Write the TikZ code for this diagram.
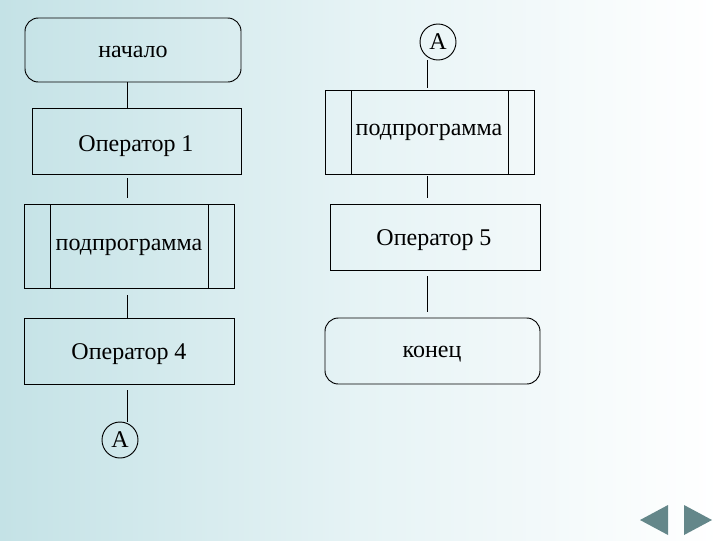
\documentclass[tikz,border=0pt]{standalone}
\usepackage{fontspec}
\setmainfont{Liberation Serif}
\definecolor{bgl}{RGB}{196,226,230}
\definecolor{bgm}{RGB}{230,243,245}
\definecolor{nav}{RGB}{100,135,138}
\begin{document}
\begin{tikzpicture}[x=0.75pt,y=-0.75pt,
  box/.style={draw=black,line width=0.7pt,inner sep=0pt},
  ln/.style={draw=black,line width=0.7pt},
  txt/.style={font=\fontsize{18}{21}\selectfont}]
\shade[left color=bgl,right color=white,middle color=bgm] (0,0) rectangle (720,540);
\useasboundingbox (0,0) rectangle (720,540);
% left column
\draw[box,rounded corners=10pt] (25,18) rectangle (241,82);
\node[txt] (n1) at (133,52) {начало};
\draw[box] (32,108) rectangle (241,174);
\node[txt] (n2) at (136,146) {Оператор 1};
\draw[box] (24,204) rectangle (234,288);
\draw[ln] (50,204) -- (50,288) (208,204) -- (208,288);
\node[txt] (n3) at (129,247) {подпрограмма};
\draw[box] (24,318) rectangle (234,384);
\node[txt] (n4) at (129,354) {Оператор 4};
\node[box,circle,minimum size=27pt,txt] (c1) at (120,440) {А};
\draw[ln] (127,82) -- (127,108);
\draw[ln] (127,178) -- (127,198);
\draw[ln] (127,295) -- (127,318);
\draw[ln] (127,390) -- (127,422);
% right column
\node[box,circle,minimum size=27pt,txt] (c2) at (438,42) {А};
\draw[box] (325,90) rectangle (534,174);
\draw[ln] (351,90) -- (351,174) (508,90) -- (508,174);
\node[txt] (n5) at (429,132) {подпрограмма};
\draw[box] (330,204) rectangle (540,270);
\node[txt] (n6) at (434,240) {Оператор 5};
\draw[box,rounded corners=10pt] (325,318) rectangle (540,384);
\node[txt] (n7) at (432,354) {конец};
\draw[ln] (427,60) -- (427,88);
\draw[ln] (427,176) -- (427,198);
\draw[ln] (427,276) -- (427,312);
% nav arrows
\fill[nav] (668,505) -- (640,520) -- (668,535) -- cycle;
\fill[nav] (684,505) -- (712,520) -- (684,535) -- cycle;
\end{tikzpicture}
\end{document}
